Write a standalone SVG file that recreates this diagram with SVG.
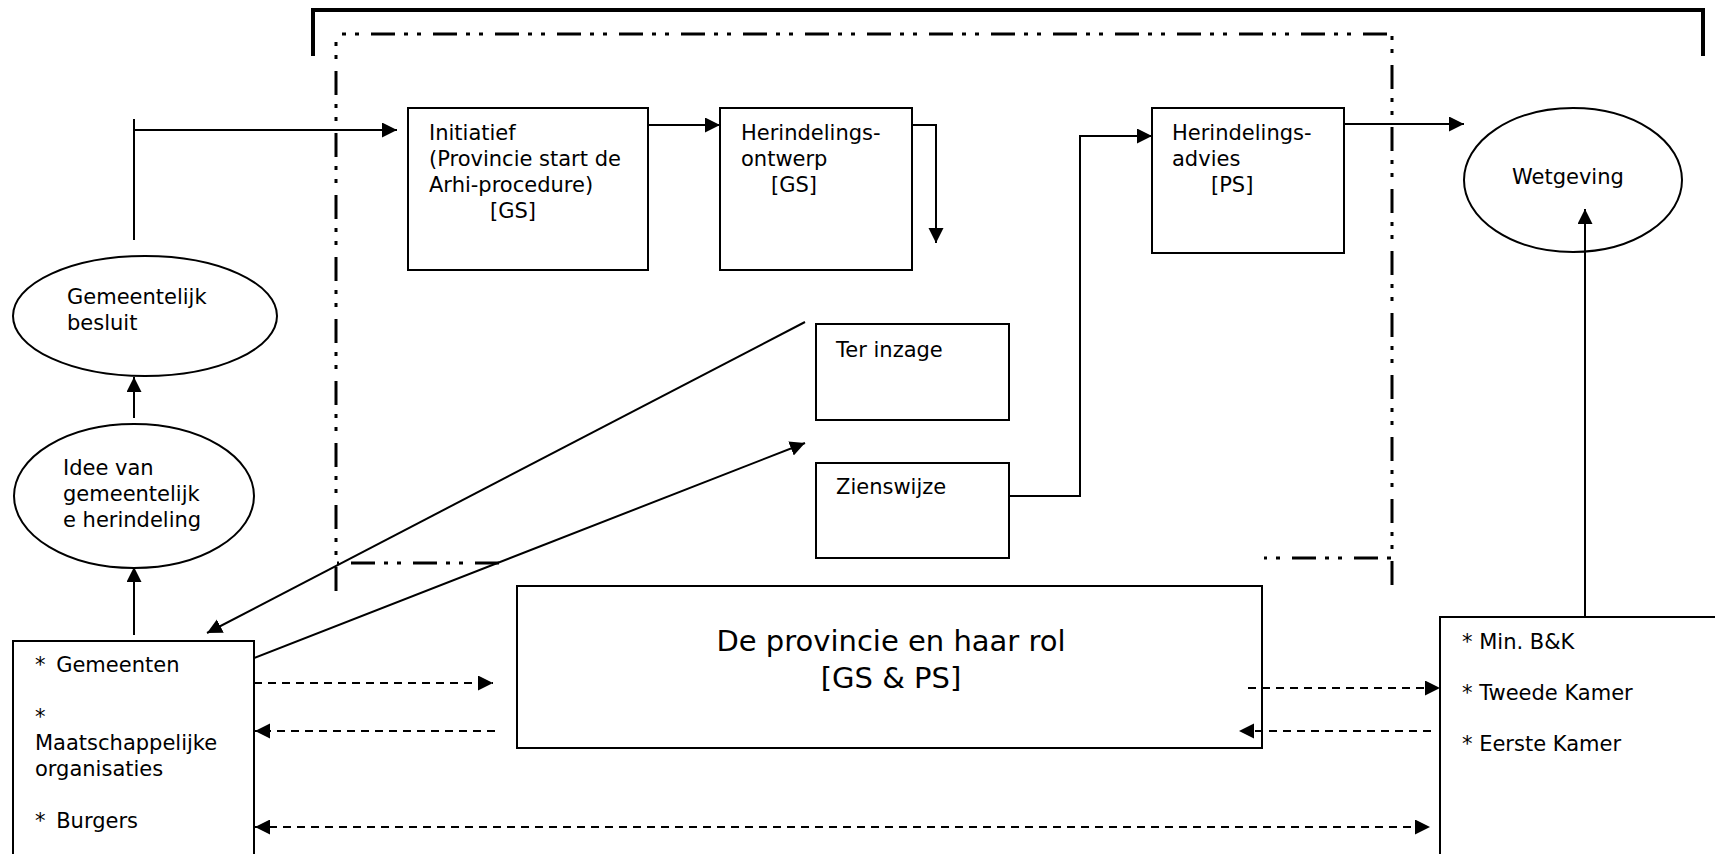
<svg xmlns="http://www.w3.org/2000/svg" width="1715" height="854" viewBox="0 0 1715 854">
<style>
.bx{fill:#fff;stroke:#000;stroke-width:2}
.el{fill:#fff;stroke:#000;stroke-width:2}
.t{font-family:"DejaVu Sans","Verdana",sans-serif;font-size:21px;fill:#000}
.tl{font-family:"DejaVu Sans","Verdana",sans-serif;font-size:29px;fill:#000}
.ws{word-spacing:4px}
.c{fill:none;stroke:#000;stroke-width:2}
.d{fill:none;stroke:#000;stroke-width:2;stroke-dasharray:8 6}
.dd{fill:none;stroke:#000;stroke-width:3;stroke-dasharray:24 9 4 9 4 12}
</style>
<defs>
<marker id="ah" markerUnits="userSpaceOnUse" markerWidth="16" markerHeight="16" refX="15" refY="7.5" orient="auto">
<path d="M0,0 L15,7.5 L0,15 z" fill="#000"/>
</marker>
<marker id="as" markerUnits="userSpaceOnUse" markerWidth="16" markerHeight="16" refX="0" refY="7.5" orient="auto">
<path d="M15,0 L0,7.5 L15,15 z" fill="#000"/>
</marker>
</defs>
<rect width="1715" height="854" fill="#fff"/>
<g id="frame">
<path d="M313,56 V10 H1703 V56" fill="none" stroke="#000" stroke-width="4"/>
<path class="dd" d="M337,34 H1392" stroke-dashoffset="28"/>
<path class="dd" d="M336,34 V591" stroke-dashoffset="25"/>
<path class="dd" d="M1392,34 V585" stroke-dashoffset="31"/>
<path class="dd" d="M337,563 H504" stroke-dashoffset="48"/>
<path class="dd" d="M1264,558 H1392" stroke-dashoffset="34"/>
</g>
<g id="initiatief">
<rect class="bx" x="408" y="108" width="240" height="162"/>
<text class="t" x="429" y="140">Initiatief</text>
<text class="t" x="429" y="166">(Provincie start de</text>
<text class="t" x="429" y="192">Arhi-procedure)</text>
<text class="t" x="490" y="218">[GS]</text>
</g>
<g id="ontwerp">
<rect class="bx" x="720" y="108" width="192" height="162"/>
<text class="t" x="741" y="140">Herindelings-</text>
<text class="t" x="741" y="166">ontwerp</text>
<text class="t" x="771" y="192">[GS]</text>
</g>
<g id="advies">
<rect class="bx" x="1152" y="108" width="192" height="145"/>
<text class="t" x="1172" y="140">Herindelings-</text>
<text class="t" x="1172" y="166">advies</text>
<text class="t" x="1211" y="192">[PS]</text>
</g>
<g id="wetgeving">
<ellipse class="el" cx="1573" cy="180" rx="109" ry="72"/>
<text class="t" x="1512" y="184">Wetgeving</text>
</g>
<g id="besluit">
<ellipse class="el" cx="145" cy="316" rx="132" ry="60"/>
<text class="t" x="67" y="304">Gemeentelijk</text>
<text class="t" x="67" y="330">besluit</text>
</g>
<g id="idee">
<ellipse class="el" cx="134" cy="496" rx="120" ry="72"/>
<text class="t" x="63" y="475">Idee van</text>
<text class="t" x="63" y="501">gemeentelijk</text>
<text class="t" x="63" y="527">e herindeling</text>
</g>
<g id="inzage">
<rect class="bx" x="816" y="324" width="193" height="96"/>
<text class="t" x="836" y="357">Ter inzage</text>
</g>
<g id="zienswijze">
<rect class="bx" x="816" y="463" width="193" height="95"/>
<text class="t" x="836" y="494">Zienswijze</text>
</g>
<g id="provincie">
<rect class="bx" x="517" y="586" width="745" height="162"/>
<text class="tl" x="891" y="651" text-anchor="middle">De provincie en haar rol</text>
<text class="tl" x="891" y="688" text-anchor="middle">[GS &amp; PS]</text>
</g>
<g id="gemeenten">
<rect class="bx" x="13" y="641" width="241" height="240"/>
<text class="t ws" x="35" y="672">* Gemeenten</text>
<text class="t" x="35" y="724">*</text>
<text class="t" x="35" y="750">Maatschappelijke</text>
<text class="t" x="35" y="776">organisaties</text>
<text class="t ws" x="35" y="828">* Burgers</text>
</g>
<g id="rijk">
<rect class="bx" x="1440" y="617" width="300" height="260"/>
<text class="t" x="1462" y="649">* Min. B&amp;K</text>
<text class="t" x="1462" y="700">* Tweede Kamer</text>
<text class="t" x="1462" y="751">* Eerste Kamer</text>
</g>
<g id="connectors">
<path class="c" d="M134,119 V240"/>
<path class="c" d="M134,130 H397" marker-end="url(#ah)"/>
<path class="c" d="M648,125 H720" marker-end="url(#ah)"/>
<path class="c" d="M912,125 H936 V243" marker-end="url(#ah)"/>
<path class="c" d="M805,322 L207,633" marker-end="url(#ah)"/>
<path class="c" d="M254,658 L805,443" marker-end="url(#ah)"/>
<path class="c" d="M1008,496 H1080 V136 H1152" marker-end="url(#ah)"/>
<path class="c" d="M1344,124 H1464" marker-end="url(#ah)"/>
<path class="c" d="M1585,617 V209" marker-end="url(#ah)"/>
<path class="c" d="M134,418 V377" marker-end="url(#ah)"/>
<path class="c" d="M134,635 V567" marker-end="url(#ah)"/>
<path class="d" d="M254,683 H493" marker-end="url(#ah)"/>
<path class="d" d="M495,731 H255" marker-end="url(#ah)"/>
<path class="d" d="M255,827 H1430" marker-start="url(#as)" marker-end="url(#ah)"/>
<path class="d" d="M1248,688 H1440" marker-end="url(#ah)"/>
<path class="d" d="M1431,731 H1239" marker-end="url(#ah)"/>
</g>
</svg>
